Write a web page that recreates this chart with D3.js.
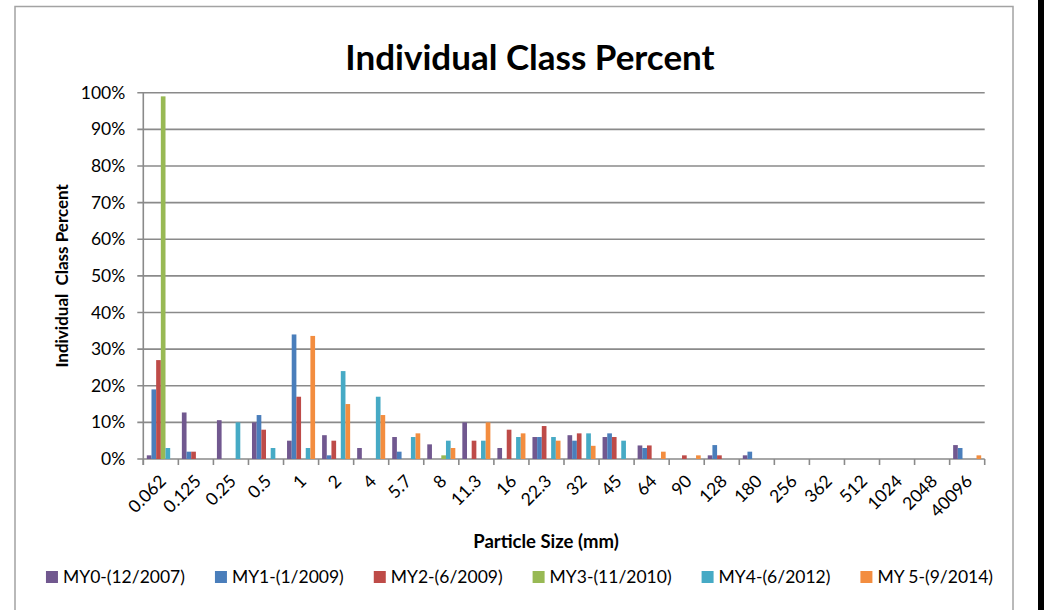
<!DOCTYPE html>
<html>
<head>
<meta charset="utf-8">
<script src="https://cdn.jsdelivr.net/npm/d3@7"></script>
<style>
  body { margin: 0; background: #fff; }
  svg { display: block; font-family: Lato, "Open Sans", sans-serif; }
</style>
</head>
<body>
<div id="chart"></div>
<script>
// particle size classes (mm)
const categories = ['0.062', '0.125', '0.25', '0.5', '1', '2', '4', '5.7', '8', '11.3', '16', '22.3',
  '32', '45', '64', '90', '128', '180', '256', '362', '512', '1024', '2048', '40096'];

const seriesNames = ['MY0-(12/2007)', 'MY1-(1/2009)', 'MY2-(6/2009)', 'MY3-(11/2010)', 'MY4-(6/2012)', 'MY 5-(9/2014)'];

// percent values
const my0 = [1, 12.7, 10.6, 10, 5, 6.5, 3, 6, 4, 10, 3, 6, 6.5, 6, 3.7, 0, 1, 1, 0, 0, 0, 0, 0, 3.8];
const my1 = [19, 2, 0, 12, 34, 1, 0, 2, 0, 0, 0, 6, 5, 7, 3, 0, 3.8, 2, 0, 0, 0, 0, 0, 3];
const my2 = [27, 2, 0, 8, 17, 5, 0, 0, 0, 5, 8, 9, 7, 6, 3.7, 1, 1, 0, 0, 0, 0, 0, 0, 0];
const my3 = [99, 0, 0, 0, 0, 0, 0, 0, 1, 0, 0, 0, 0, 0, 0, 0, 0, 0, 0, 0, 0, 0, 0, 0];
const my4 = [3, 0, 10, 3, 3, 24, 17, 6, 5, 5, 6, 6, 7, 5, 0, 0, 0, 0, 0, 0, 0, 0, 0, 0];
const my5 = [0, 0, 0, 0, 33.6, 15, 12, 7, 3, 10, 7, 5, 3.6, 0, 2, 1, 0, 0, 0, 0, 0, 0, 0, 1];

const yTicks = [0, 10, 20, 30, 40, 50, 60, 70, 80, 90, 100];
const colors = ['#71588F', '#4A7EBB', '#BE4B48', '#98B954', '#46AAC5', '#F38D3F'];

const allSeries = [my0, my1, my2, my3, my4, my5];

const W = 1044, H = 610;
const plotL = 143.3, plotR = 984.7, plotT = 92.7, plotB = 459;

let svg = d3.select('#chart')
  .append('svg')
  .attr('width', W)
  .attr('height', H);

svg.append('rect').attr('width', W).attr('height', H).attr('fill', '#fff');

// chart frame + dark strip at the right edge
svg.append('rect')
  .attr('x', 15).attr('y', 6.5)
  .attr('width', 998).attr('height', 640)
  .attr('fill', 'none')
  .attr('stroke', '#a3a3a3')
  .attr('stroke-width', 1.5);
svg.append('rect').attr('x', 1038).attr('y', 0).attr('width', 6).attr('height', H).attr('fill', '#000');

let x = d3.scaleBand().domain(categories).range([plotL, plotR]).padding(0);
let x1 = d3.scaleBand().domain(d3.range(seriesNames.length)).range([0, x.bandwidth()])
  .paddingInner(0).paddingOuter(0.75);
let y = d3.scaleLinear().domain([0, 100]).range([plotB, plotT]);

// gridlines
svg.append('g')
  .selectAll('line')
  .data(yTicks)
  .join('line')
  .attr('x1', plotL - 6).attr('x2', plotR)
  .attr('y1', d => y(d)).attr('y2', d => y(d))
  .attr('stroke', '#8a8a8a')
  .attr('stroke-width', 1.6);

// y axis line
svg.append('line')
  .attr('x1', plotL).attr('x2', plotL)
  .attr('y1', plotT).attr('y2', plotB + 6)
  .attr('stroke', '#8a8a8a').attr('stroke-width', 1.6);

// y labels
svg.append('g')
  .attr('transform', `translate(${plotL},0)`)
  .call(d3.axisLeft(y).tickValues(yTicks).tickFormat(d => d + '%').tickSize(0).tickPadding(18))
  .call(g => g.select('.domain').remove())
  .selectAll('text')
  .attr('font-family', 'Lato')
  .attr('font-size', 17.5)
  .attr('fill', '#000');

// x tick marks on the category boundaries
let bounds = categories.map(c => x(c)).concat([plotR]);
svg.append('g')
  .selectAll('line')
  .data(bounds)
  .join('line')
  .attr('x1', d => d).attr('x2', d => d)
  .attr('y1', plotB).attr('y2', plotB + 6)
  .attr('stroke', '#8a8a8a').attr('stroke-width', 1.6);

// bars
svg.append('g')
  .selectAll('g')
  .data(allSeries)
  .join('g')
  .attr('fill', (d, i) => colors[i])
  .each(function (vals, si) {
    d3.select(this).selectAll('rect')
      .data(vals.map((v, ci) => ({ v: v, c: categories[ci] })).filter(d => d.v > 0))
      .join('rect')
      .attr('x', d => x(d.c) + x1(si))
      .attr('width', x1.bandwidth())
      .attr('y', d => y(d.v))
      .attr('height', d => y(0) - y(d.v));
  });

// x labels, rotated
svg.append('g')
  .selectAll('text')
  .data(categories)
  .join('text')
  .attr('transform', d => `translate(${x(d) + x.bandwidth() / 2 + 2},${plotB + 19}) rotate(-45)`)
  .attr('text-anchor', 'end')
  .attr('dy', '0.35em')
  .attr('font-size', 17.5)
  .text(d => d);

// titles
svg.append('text')
  .attr('x', 530).attr('y', 70)
  .attr('text-anchor', 'middle')
  .attr('font-weight', 'bold')
  .attr('font-size', 35)
  .text('Individual Class Percent');

svg.append('text')
  .attr('x', 546).attr('y', 548)
  .attr('text-anchor', 'middle')
  .attr('font-weight', 'bold')
  .attr('font-size', 18.5)
  .text('Particle Size (mm)');

svg.append('text')
  .attr('transform', `translate(68,${(plotT + plotB) / 2}) rotate(-90)`)
  .attr('text-anchor', 'middle')
  .attr('font-weight', 'bold')
  .attr('font-size', 17)
  .style('white-space', 'pre')
  .text('Individual  Class Percent');

// legend
let legend = svg.append('g').attr('transform', 'translate(0,577)');
let items = legend.selectAll('g')
  .data(seriesNames)
  .join('g');
items.append('rect')
  .attr('y', -6).attr('width', 12).attr('height', 12)
  .attr('fill', (d, i) => colors[i]);
items.append('text')
  .attr('x', 17).attr('dy', '0.35em')
  .attr('font-size', 17.5)
  .text(d => d);

let widths = [];
items.each(function () {
  widths.push(17 + d3.select(this).select('text').node().getComputedTextLength());
});
let gap = 30;
let total = d3.sum(widths) + gap * (widths.length - 1);
let pos = 519.5 - total / 2;
items.attr('transform', (d, i) => {
  let p = pos;
  pos += widths[i] + gap;
  return `translate(${p},0)`;
});
</script>
</body>
</html>
